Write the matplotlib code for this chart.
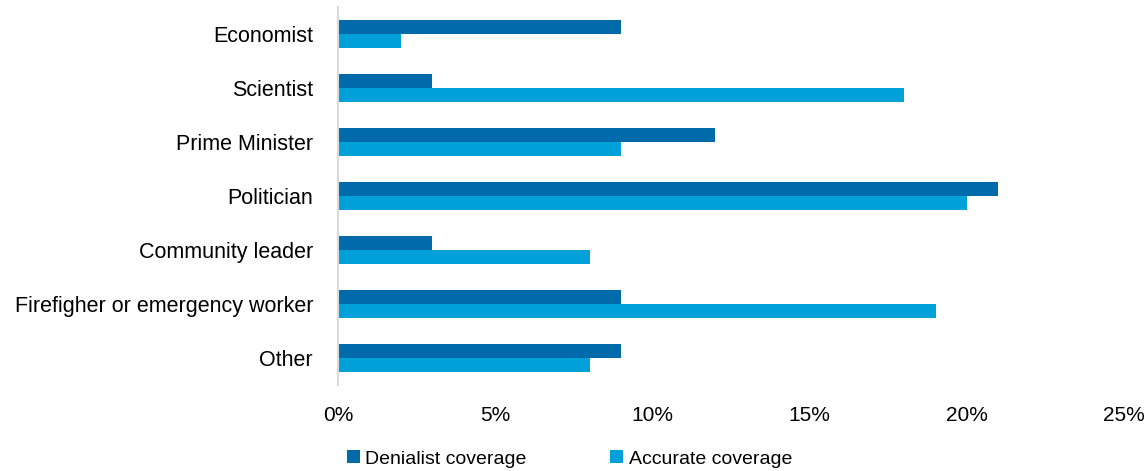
import matplotlib
matplotlib.use('Agg')
import matplotlib.pyplot as plt
import numpy as np

plt.rcParams['font.family'] = ['Liberation Sans', 'DejaVu Sans']

categories = ['Economist', 'Scientist', 'Prime Minister', 'Politician',
              'Community leader', 'Firefigher or emergency worker', 'Other']
denialist = [9, 3, 12, 21, 3, 9, 9]
accurate = [2, 18, 9, 20, 8, 19, 8]

dark_blue = '#006aaa'
light_blue = '#00a0d8'

fig = plt.figure(figsize=(11.46, 4.71), dpi=100)
ax = fig.add_axes([0.295, 0.1826, 0.686, 0.8025])

y = np.arange(len(categories))
h = 0.26
ax.barh(y - h / 2, denialist, height=h, color=dark_blue, label='Denialist coverage')
ax.barh(y + h / 2, accurate, height=h, color=light_blue, label='Accurate coverage')

ax.set_ylim(len(categories) - 0.5, -0.5)
ax.set_xlim(0, 25)
ax.set_yticks(y)
ax.set_yticklabels(categories, fontsize=15.5)
ax.set_xticks(np.arange(0, 26, 5))
ax.set_xticklabels([f'{v}%' for v in range(0, 26, 5)], fontsize=15)
ax.tick_params(length=0)
ax.tick_params(axis='x', pad=15)
ax.tick_params(axis='y', pad=18)

for side in ['top', 'right', 'bottom']:
    ax.spines[side].set_visible(False)
ax.spines['left'].set_color('#d9d9d9')
ax.spines['left'].set_linewidth(1.5)

fig.legend(loc='lower center', bbox_to_anchor=(0.497, -0.03), ncol=2,
           frameon=False, fontsize=14, handlelength=0.65, handleheight=0.65,
           handletextpad=0.3, columnspacing=4.3)

fig.savefig('out.png', dpi=100)
